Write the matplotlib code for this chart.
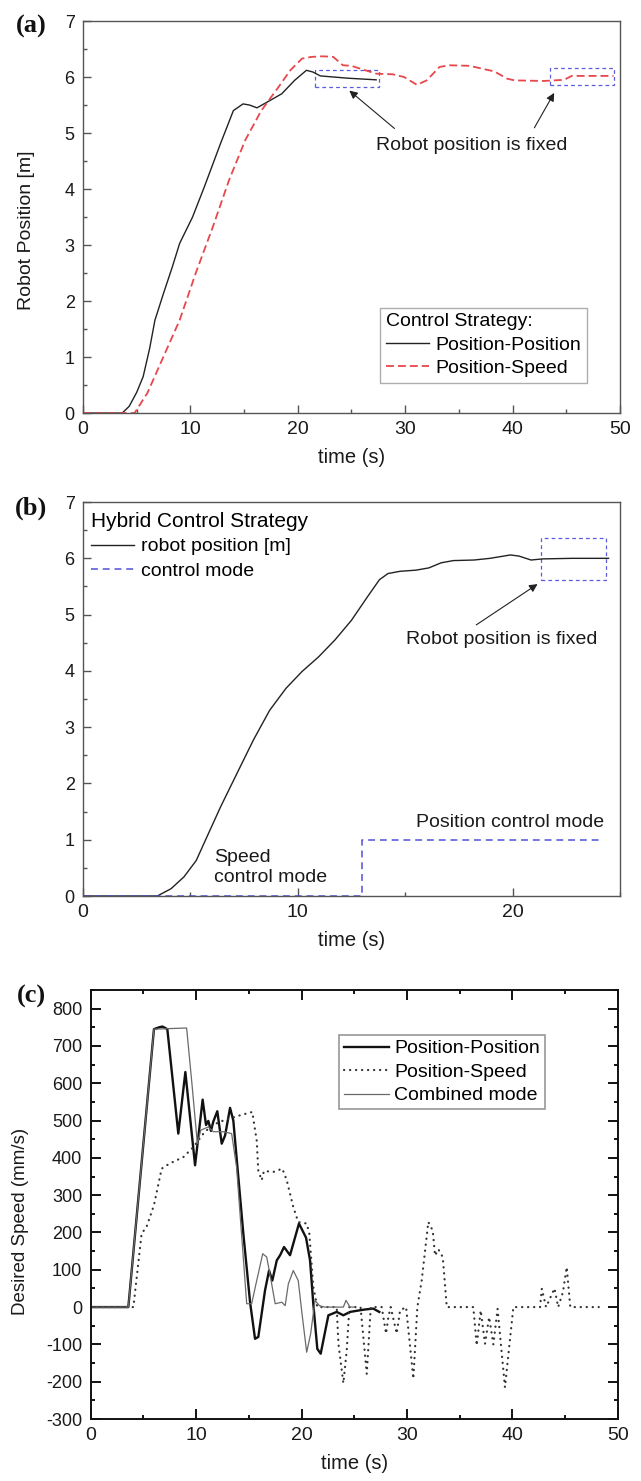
import matplotlib
matplotlib.use('Agg')
import matplotlib.pyplot as plt
from matplotlib.patches import Rectangle
from matplotlib.ticker import MultipleLocator

plt.rcParams['font.family'] = ['Liberation Sans', 'DejaVu Sans']
plt.rcParams['axes.unicode_minus'] = False

# ---- panel (a): robot position, two control strategies ----
a_pp_t = [0, 3.65, 4.3, 5.0, 5.6, 6.2, 6.7, 7.5, 8.3, 9.0, 10.2, 11.3, 12.8, 14.0, 14.9, 15.5,
          16.2, 17.4, 18.5, 19.7, 20.8, 21.4, 22.1, 24.6, 27.3]
a_pp_v = [0, 0, 0.12, 0.37, 0.65, 1.15, 1.66, 2.14, 2.6, 3.03, 3.5, 4.04, 4.81, 5.4, 5.52, 5.5,
          5.45, 5.58, 5.7, 5.94, 6.12, 6.09, 6.02, 5.98, 5.95]
a_ps_t = [0, 4.8, 6.0, 7.5, 9.0, 10.5, 12.1, 13.6, 15.1, 16.6, 18.2, 19.3, 20.4, 21.3, 22.3,
          23.3, 24.2, 25.0, 25.8, 27.3, 28.8, 29.9, 31.1, 32.0, 33.2, 34.1, 36.0, 38.3, 39.5,
          40.2, 42.9, 44.8, 45.5, 49.4]
a_ps_v = [0, 0, 0.36, 1.01, 1.66, 2.5, 3.33, 4.16, 4.87, 5.4, 5.82, 6.12, 6.33, 6.36, 6.37,
          6.36, 6.21, 6.2, 6.15, 6.06, 6.05, 6.0, 5.86, 5.94, 6.18, 6.21, 6.2, 6.1, 5.97,
          5.94, 5.93, 5.95, 6.02, 6.02]
a_boxes = [(21.6, 5.82, 27.55, 6.12), (43.5, 5.86, 49.4, 6.17)]
a_arrows = [((29.2, 5.05), (24.6, 5.79)), ((41.9, 5.05), (44.0, 5.76))]

# ---- panel (b): hybrid control strategy ----
b_pos_t = [0, 3.46, 4.1, 4.7, 5.27, 5.84, 6.4, 7.17, 7.93, 8.69, 9.45, 10.2, 10.97, 11.73,
           12.5, 13.25, 13.8, 14.2, 14.77, 15.5, 16.1, 16.67, 17.24, 18.2, 18.95, 19.9, 20.3,
           20.86, 21.4, 22.76, 24.47]
b_pos_v = [0, 0, 0.13, 0.34, 0.63, 1.11, 1.58, 2.18, 2.77, 3.3, 3.69, 3.99, 4.25, 4.55,
           4.9, 5.32, 5.62, 5.73, 5.77, 5.79, 5.83, 5.92, 5.96, 5.97, 6.0, 6.06, 6.04,
           5.97, 5.99, 6.0, 6.0]
b_mode_t = [0, 13.0, 13.0, 24.2]
b_mode_v = [0, 0, 1, 1]
b_box = (21.3, 5.61, 24.35, 6.36)
b_arrow = ((18.2, 4.79), (21.27, 5.57))

# ---- panel (c): desired speed ----
c_pp_t = [0, 3.57, 6.0, 6.5, 6.8, 7.27, 8.31, 8.98, 9.9, 10.62, 10.94, 11.16, 11.41, 11.63,
          12.01, 12.43, 12.75, 13.22, 13.53, 14.48, 15.12, 15.59, 15.9, 16.54, 16.92, 17.23,
          17.65, 17.97, 18.34, 18.91, 19.76, 20.43, 20.81, 21.12, 21.5, 21.82, 22.2, 22.55,
          23.34, 23.97, 24.6, 25.87, 26.8, 27.38]
c_pp_v = [0, 0, 745, 750, 752, 745, 465, 630, 380, 556, 488, 499, 472, 497, 525, 438, 460,
          534, 500, 197, 13, -85, -80, 45, 98, 71, 125, 139, 161, 139, 224, 186, 125, 8,
          -112, -125, -71, -22, -13, -22, -13, -7, -4, -13]
c_ps_t = [0, 4.05, 4.83, 5.3, 6.0, 6.73, 7.5, 8.79, 9.74, 10.69, 11.48, 12.58, 14.17, 15.33,
          15.75, 15.9, 16.22, 16.44, 17.3, 18.18, 18.6, 19.22, 19.69, 20.49, 20.74, 21.12,
          21.5, 23.34, 23.5, 23.97, 24.29, 24.54, 25.6, 26.19, 26.57, 27.61, 28.02, 28.24,
          28.46, 29.03, 29.35, 29.92, 30.61, 30.99, 31.4, 32.03, 32.45, 32.67, 32.98, 33.4,
          33.78, 36.3, 36.62, 37.0, 37.41, 37.8, 38.2, 38.6, 39.3, 40.1, 42.63, 42.8, 43.2,
          44.0, 44.35, 44.8, 45.16, 45.5, 48.2]
c_ps_v = [0, 0, 197, 215, 273, 371, 385, 402, 429, 465, 487, 500, 514, 523, 446, 366, 340,
          365, 362, 371, 340, 268, 228, 224, 197, 54, 0, 0, -98, -204, -116, 0, 0, -179, 0,
          0, -71, -27, 0, -71, -9, 0, -192, 0, 71, 228, 205, 138, 155, 134, 0, 0, -103, -9,
          -98, -27, -100, -5, -215, 0, 0, 49, 0, 50, 0, 40, 107, 0, 0]
c_cm_t = [0, 3.57, 6.0, 9.1, 9.6, 10.12, 10.44, 11.16, 11.63, 12.6, 13.37, 13.84, 14.8,
          15.27, 15.75, 16.32, 16.7, 17.17, 17.5, 18.13, 18.45, 18.75, 19.22, 19.69, 20.01,
          20.49, 20.87, 21.28, 21.69, 22.2, 23.97, 24.22, 24.6, 25.0]
c_cm_v = [0, 0, 745, 748, 600, 438, 474, 483, 470, 470, 465, 375, 9, 9, 71, 143, 134, 62,
          9, 13, 4, 62, 98, 71, -9, -121, -71, 18, 4, 0, 0, 18, 0, 0]

RED = '#e8474c'
BLUE = '#5b5bdc'
TXT = '#1a1a1a'


def style_axes(ax, color, lw, all_sides=False):
    for s in ax.spines.values():
        s.set_color(color)
        s.set_linewidth(lw)
    ax.tick_params(which='both', direction='in', top=all_sides, right=all_sides,
                   color=color, labelcolor=TXT)
    ax.tick_params(which='major', length=6, width=lw)
    ax.tick_params(which='minor', length=3, width=lw)
    ax.tick_params(axis='x', labelsize=14, pad=6)
    ax.tick_params(axis='y', labelsize=13, pad=6)


fig = plt.figure(figsize=(6.41, 14.81), dpi=100)
ax_a = fig.add_axes([0.1295, 0.7211, 0.8377, 0.2647])
ax_b = fig.add_axes([0.1295, 0.3950, 0.8377, 0.2660])
ax_c = fig.add_axes([0.1415, 0.04186, 0.8222, 0.2897])

# panel (a)
ax_a.plot(a_pp_t, a_pp_v, color='#222222', lw=1.0, label='Position-Position')
ax_a.plot(a_ps_t, a_ps_v, color=RED, lw=1.3, linestyle=(0, (4.4, 2.2)), label='Position-Speed')
for x0, y0, x1, y1 in a_boxes:
    ax_a.add_patch(Rectangle((x0, y0), x1 - x0, y1 - y0, fill=False, edgecolor=BLUE,
                             lw=0.9, linestyle=(0, (3, 2.5))))
for tail, head in a_arrows:
    ax_a.annotate('', xy=head, xytext=tail,
                  arrowprops=dict(arrowstyle='-|>', color='#222222', lw=0.8, mutation_scale=12))
ax_a.text(36.2, 4.77, 'Robot position is fixed', fontsize=14, color=TXT, ha='center', va='center')
ax_a.set_xlim(0, 50)
ax_a.set_ylim(0, 7)
ax_a.xaxis.set_major_locator(MultipleLocator(10))
ax_a.xaxis.set_minor_locator(MultipleLocator(5))
ax_a.yaxis.set_major_locator(MultipleLocator(1))
ax_a.yaxis.set_minor_locator(MultipleLocator(0.5))
style_axes(ax_a, '#555555', 1.0)
ax_a.set_xlabel('time (s)', fontsize=14.5, color=TXT, labelpad=7)
ax_a.set_ylabel('Robot Position [m]', fontsize=14, color=TXT)
ax_a.yaxis.set_label_coords(-0.09, 0.467)
leg = ax_a.legend(title='Control Strategy:', loc='lower right', bbox_to_anchor=(0.9385, 0.0765),
                  borderaxespad=0, fancybox=False, edgecolor='#999999', fontsize=14,
                  title_fontsize=14, handlelength=2.2, handletextpad=0.35, labelspacing=0.3,
                  borderpad=0.3, alignment='left')
leg.get_frame().set_linewidth(1.0)

# panel (b)
ax_b.plot(b_pos_t, b_pos_v, color='#222222', lw=1.0, label='robot position [m]')
ax_b.plot(b_mode_t, b_mode_v, color='#5050d8', lw=1.1, linestyle=(0, (4.5, 3.2)),
          label='control mode')
x0, y0, x1, y1 = b_box
ax_b.add_patch(Rectangle((x0, y0), x1 - x0, y1 - y0, fill=False, edgecolor=BLUE,
                         lw=0.9, linestyle=(0, (3, 2.5))))
ax_b.annotate('', xy=b_arrow[1], xytext=b_arrow[0],
              arrowprops=dict(arrowstyle='-|>', color='#222222', lw=0.8, mutation_scale=12))
ax_b.text(19.5, 4.56, 'Robot position is fixed', fontsize=14, color=TXT, ha='center', va='center')
ax_b.text(19.9, 1.30, 'Position control mode', fontsize=14, color=TXT, ha='center', va='center')
ax_b.text(6.12, 0.5, 'Speed\ncontrol mode', fontsize=14, color=TXT, ha='left', va='center',
          linespacing=1.25)
ax_b.set_xlim(0, 25)
ax_b.set_ylim(0, 7)
ax_b.xaxis.set_major_locator(MultipleLocator(10))
ax_b.xaxis.set_minor_locator(MultipleLocator(5))
ax_b.yaxis.set_major_locator(MultipleLocator(1))
ax_b.yaxis.set_minor_locator(MultipleLocator(0.5))
style_axes(ax_b, '#555555', 1.0)
ax_b.set_xlabel('time (s)', fontsize=14.5, color=TXT, labelpad=7)
ax_b.legend(title='Hybrid Control Strategy', loc='upper left', bbox_to_anchor=(0.015, 0.975),
            borderaxespad=0, frameon=False, fontsize=14, title_fontsize=15,
            handlelength=2.2, handletextpad=0.35, labelspacing=0.35, borderpad=0,
            alignment='left')

# panel (c)
ax_c.plot(c_pp_t, c_pp_v, color='#111111', lw=1.7, label='Position-Position')
ax_c.plot(c_ps_t, c_ps_v, color='#333333', lw=1.6, linestyle=(0, (0.1, 2.6)),
          dash_capstyle='round', label='Position-Speed')
ax_c.plot(c_cm_t, c_cm_v, color='#6a6a6a', lw=0.9, label='Combined mode')
ax_c.set_xlim(0, 50)
ax_c.set_ylim(-300, 850)
ax_c.xaxis.set_major_locator(MultipleLocator(10))
ax_c.xaxis.set_minor_locator(MultipleLocator(5))
ax_c.yaxis.set_major_locator(MultipleLocator(100))
ax_c.yaxis.set_minor_locator(MultipleLocator(50))
style_axes(ax_c, '#111111', 1.4, all_sides=True)
ax_c.tick_params(which='major', length=7)
ax_c.set_xlabel('time (s)', fontsize=14.5, color=TXT, labelpad=7)
ax_c.set_ylabel('Desired Speed (mm/s)', fontsize=13.5, color=TXT)
ax_c.yaxis.set_label_coords(-0.118, 0.46)
leg_c = ax_c.legend(loc='upper left', bbox_to_anchor=(0.471, 0.895), borderaxespad=0,
                    fancybox=False, edgecolor='#888888', fontsize=14, handlelength=2.3,
                    handletextpad=0.3, labelspacing=0.3, borderpad=0.25)
leg_c.get_frame().set_linewidth(1.3)

# panel letters
for y, lab in [(0.9824, '(a)'), (0.657, '(b)'), (0.3275, '(c)')]:
    fig.text(0.049, y, lab, fontsize=19, fontweight='bold', ha='center', va='center',
             family=['Liberation Serif', 'DejaVu Serif'], color='#111111')

fig.savefig('out.png', dpi=100)
